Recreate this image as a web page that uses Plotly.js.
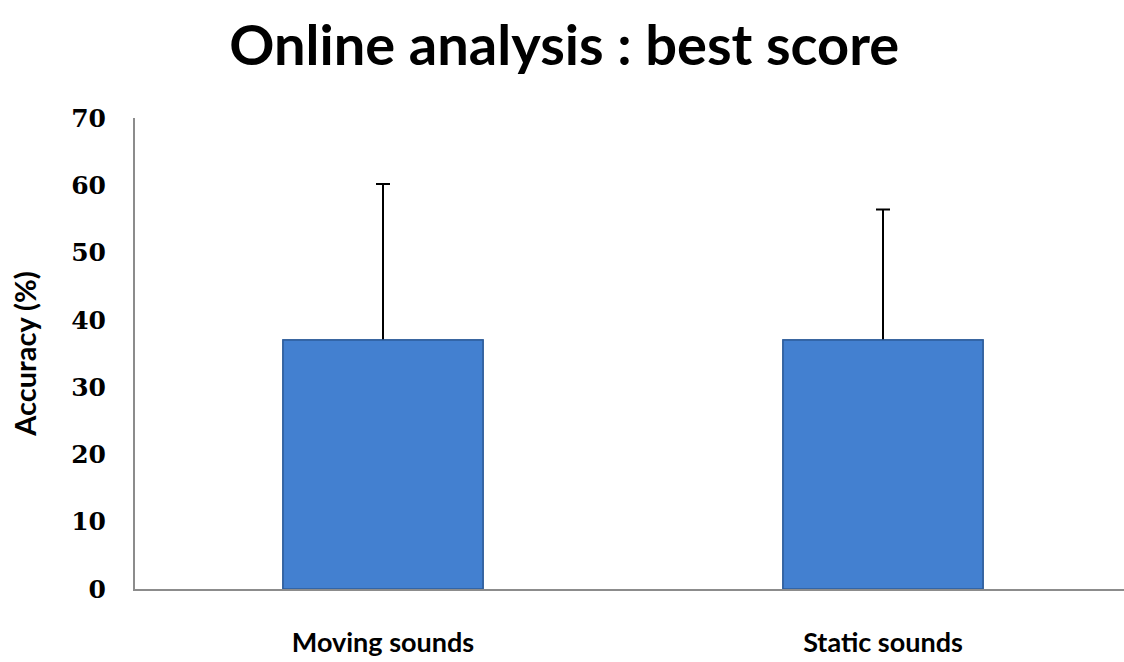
<!DOCTYPE html>
<html>
<head>
<meta charset="utf-8">
<script src="https://cdn.plot.ly/plotly-3.0.1.min.js"></script>
<style>
html,body{margin:0;padding:0;background:#fff;}
#chart{width:1124px;height:662px;}
</style>
</head>
<body>
<div id="chart"></div>
<script>
const categories = ["Moving sounds", "Static sounds"];
const accuracy = [37.0, 37.0];
const errorPlus = [23.2, 19.4];
const yTickValues = [0, 10, 20, 30, 40, 50, 60, 70];
const yTickLabels = ["0", "10", "20", "30", "40", "50", "60", "70"];

const barStyle = {
  color: "#4380D0",
  line: {color: "#2E5C9A", width: 1.5}
};

// error bar trace (drawn first, lower half hidden by the bar drawn over it)
const errTrace = {
  type: "bar",
  x: categories,
  y: accuracy,
  width: 0.4,
  marker: barStyle,
  error_y: {
    type: "data",
    symmetric: true,
    array: errorPlus,
    color: "#000000",
    thickness: 2,
    width: 7
  },
  hoverinfo: "skip"
};

const barTrace = {
  type: "bar",
  x: categories,
  y: accuracy,
  width: 0.4,
  marker: barStyle,
  hoverinfo: "skip"
};

const layout = {
  width: 1124,
  height: 662,
  paper_bgcolor: "#ffffff",
  plot_bgcolor: "#ffffff",
  margin: {l: 135, r: 0, t: 118, b: 73},
  barmode: "overlay",
  showlegend: false,
  title: {
    text: "<b>Online analysis : best score</b>",
    font: {family: "Lato, 'Open Sans', sans-serif", size: 56, color: "#000"},
    x: 0.502, xanchor: "center",
    y: 0.932, yanchor: "middle"
  },
  xaxis: {
    type: "category",
    range: [-0.496, 1.482],
    showline: true,
    linecolor: "#8c8c8c",
    linewidth: 2,
    ticks: "",
    showgrid: false,
    zeroline: false,
    ticklabelstandoff: 29,
    tickfont: {family: "Lato, 'Open Sans', sans-serif", size: 27, color: "#000", weight: "bold"}
  },
  yaxis: {
    range: [0, 70],
    tickvals: yTickValues,
    ticktext: yTickLabels,
    showline: true,
    linecolor: "#8c8c8c",
    linewidth: 2,
    ticks: "",
    showgrid: false,
    zeroline: false,
    ticklabelstandoff: 22,
    tickfont: {family: "'DejaVu Serif', 'Liberation Serif', serif", size: 25, color: "#000", weight: "bold"},
    title: {
      text: "Accuracy (%)",
      font: {family: "Lato, 'Open Sans', sans-serif", size: 29, color: "#000", weight: "bold"},
      standoff: 26
    }
  }
};

Plotly.newPlot("chart", [errTrace, barTrace], layout, {displayModeBar: false, staticPlot: true});
</script>
</body>
</html>
